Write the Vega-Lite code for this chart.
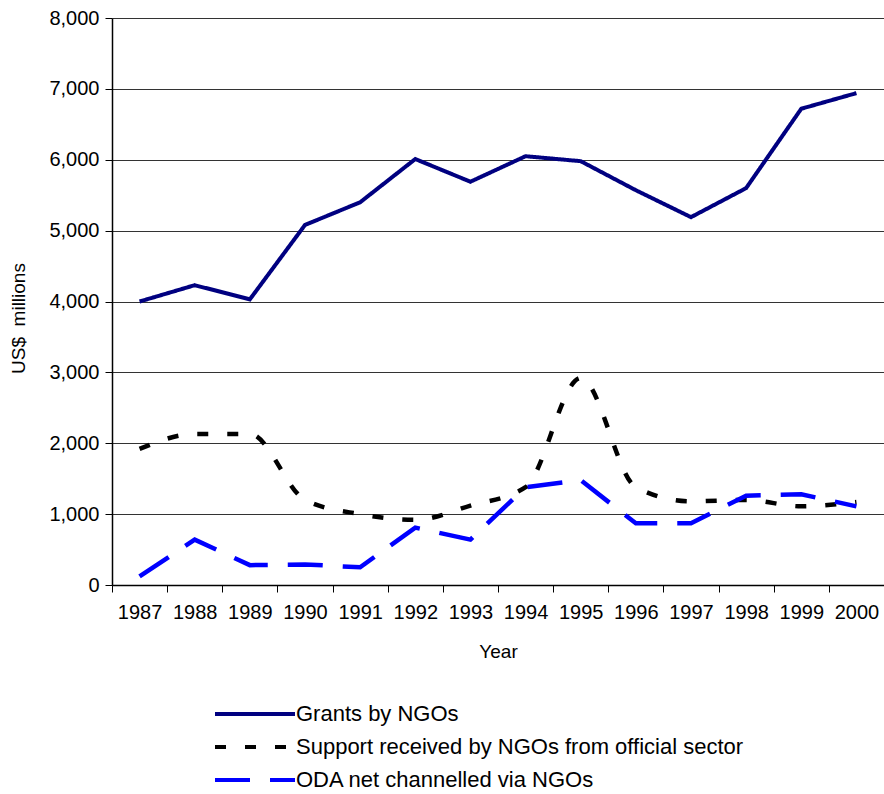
{
  "$schema": "https://vega.github.io/schema/vega-lite/v6.json",
  "width": 772,
  "height": 567,
  "autosize": "none",
  "padding": {"left": 112, "top": 18, "right": 0, "bottom": 209},
  "background": "white",
  "config": {
    "font": "Liberation Sans",
    "view": {"stroke": null},
    "axis": {"labelFont": "Liberation Sans", "titleFont": "Liberation Sans", "labelColor": "#000", "titleColor": "#000", "titleFontWeight": "normal"},
    "legend": {"labelFont": "Liberation Sans"}
  },
  "data": {
    "values": [
      {"year": "1987", "series": "Grants by NGOs", "value": 4000},
      {"year": "1988", "series": "Grants by NGOs", "value": 4230},
      {"year": "1989", "series": "Grants by NGOs", "value": 4030},
      {"year": "1990", "series": "Grants by NGOs", "value": 5080},
      {"year": "1991", "series": "Grants by NGOs", "value": 5400},
      {"year": "1992", "series": "Grants by NGOs", "value": 6010},
      {"year": "1993", "series": "Grants by NGOs", "value": 5690},
      {"year": "1994", "series": "Grants by NGOs", "value": 6050},
      {"year": "1995", "series": "Grants by NGOs", "value": 5980},
      {"year": "1996", "series": "Grants by NGOs", "value": 5570},
      {"year": "1997", "series": "Grants by NGOs", "value": 5190},
      {"year": "1998", "series": "Grants by NGOs", "value": 5600},
      {"year": "1999", "series": "Grants by NGOs", "value": 6720},
      {"year": "2000", "series": "Grants by NGOs", "value": 6940},
      {"year": "1987", "series": "Support received by NGOs from official sector", "value": 1920},
      {"year": "1988", "series": "Support received by NGOs from official sector", "value": 2130},
      {"year": "1989", "series": "Support received by NGOs from official sector", "value": 2130},
      {"year": "1990", "series": "Support received by NGOs from official sector", "value": 1200},
      {"year": "1991", "series": "Support received by NGOs from official sector", "value": 1000},
      {"year": "1992", "series": "Support received by NGOs from official sector", "value": 920},
      {"year": "1993", "series": "Support received by NGOs from official sector", "value": 1120},
      {"year": "1994", "series": "Support received by NGOs from official sector", "value": 1380},
      {"year": "1995", "series": "Support received by NGOs from official sector", "value": 2920},
      {"year": "1996", "series": "Support received by NGOs from official sector", "value": 1380},
      {"year": "1997", "series": "Support received by NGOs from official sector", "value": 1180},
      {"year": "1998", "series": "Support received by NGOs from official sector", "value": 1200},
      {"year": "1999", "series": "Support received by NGOs from official sector", "value": 1110},
      {"year": "2000", "series": "Support received by NGOs from official sector", "value": 1170},
      {"year": "1987", "series": "ODA net channelled via NGOs", "value": 120},
      {"year": "1988", "series": "ODA net channelled via NGOs", "value": 640},
      {"year": "1989", "series": "ODA net channelled via NGOs", "value": 280},
      {"year": "1990", "series": "ODA net channelled via NGOs", "value": 290},
      {"year": "1991", "series": "ODA net channelled via NGOs", "value": 250},
      {"year": "1992", "series": "ODA net channelled via NGOs", "value": 810},
      {"year": "1993", "series": "ODA net channelled via NGOs", "value": 640},
      {"year": "1994", "series": "ODA net channelled via NGOs", "value": 1380},
      {"year": "1995", "series": "ODA net channelled via NGOs", "value": 1480},
      {"year": "1996", "series": "ODA net channelled via NGOs", "value": 870},
      {"year": "1997", "series": "ODA net channelled via NGOs", "value": 870},
      {"year": "1998", "series": "ODA net channelled via NGOs", "value": 1260},
      {"year": "1999", "series": "ODA net channelled via NGOs", "value": 1280},
      {"year": "2000", "series": "ODA net channelled via NGOs", "value": 1110}
    ]
  },
  "encoding": {
    "x": {
      "field": "year", "type": "ordinal", "bandPosition": 0.5,
      "scale": {"type": "band", "paddingInner": 0, "paddingOuter": 0},
      "axis": {
        "title": "Year", "titleFontSize": 19, "titlePadding": 20,
        "labelAngle": 0, "labelFontSize": 20, "labelPadding": 10, "labelOffset": 0,
        "bandPosition": 0, "tickBand": "extent",
        "domainColor": "#000", "domainWidth": 1.5, "tickColor": "#000", "tickSize": 7, "tickWidth": 1,
        "grid": false
      }
    },
    "y": {
      "field": "value", "type": "quantitative",
      "scale": {"domain": [0, 8000], "nice": false},
      "axis": {
        "title": "US$\u00a0 millions", "titleFontSize": 19, "titlePadding": 20, "titleY": 300,
        "values": [0, 1000, 2000, 3000, 4000, 5000, 6000, 7000, 8000],
        "format": ",d", "labelFontSize": 20, "labelPadding": 6,
        "domainColor": "#000", "domainWidth": 1.5, "tickColor": "#000", "tickSize": 7, "tickWidth": 1,
        "grid": true, "gridColor": "#333", "gridWidth": 1
      }
    },
    "color": {
      "field": "series", "type": "nominal",
      "scale": {
        "domain": ["Grants by NGOs", "Support received by NGOs from official sector", "ODA net channelled via NGOs"],
        "range": ["#000080", "#000000", "#0000ff"]
      },
      "legend": {
        "title": null, "orient": "none", "legendX": 131, "legendY": 684, "direction": "vertical",
        "symbolType": "M-4,0H4", "symbolSize": 400, "symbolStrokeWidth": 4,
        "labelFontSize": 22, "labelColor": "#000", "labelOffset": 29, "rowPadding": 10, "padding": 0, "labelLimit": 600
      }
    },
    "strokeDash": {
      "field": "series", "type": "nominal",
      "scale": {
        "domain": ["Grants by NGOs", "Support received by NGOs from official sector", "ODA net channelled via NGOs"],
        "range": [[1, 0], [11, 19], [35, 20]]
      },
      "legend": {
        "title": null, "orient": "none", "legendX": 131, "legendY": 684, "direction": "vertical",
        "symbolType": "M-4,0H4", "symbolSize": 400, "symbolStrokeWidth": 4,
        "labelFontSize": 22, "labelColor": "#000", "labelOffset": 29, "rowPadding": 10, "padding": 0, "labelLimit": 600
      }
    }
  },
  "layer": [
    {
      "transform": [{"filter": "datum.series === 'Grants by NGOs'"}],
      "mark": {"type": "line", "strokeWidth": 4, "interpolate": "linear"}
    },
    {
      "transform": [{"filter": "datum.series === 'Support received by NGOs from official sector'"}],
      "mark": {"type": "line", "strokeWidth": 4.5, "interpolate": "monotone"}
    },
    {
      "transform": [{"filter": "datum.series === 'ODA net channelled via NGOs'"}],
      "mark": {"type": "line", "strokeWidth": 4.5, "interpolate": "linear"}
    }
  ]
}
